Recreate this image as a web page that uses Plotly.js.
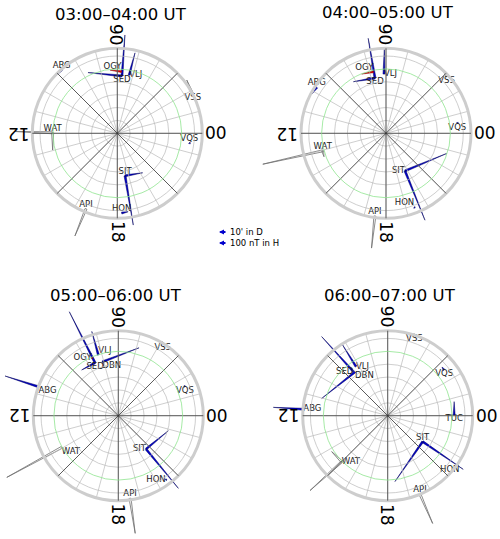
<!DOCTYPE html>
<html>
<head>
<meta charset="utf-8">
<script src="https://cdn.plot.ly/plotly-3.0.1.min.js"></script>
<style>
  html, body { margin: 0; padding: 0; background: #fff; }
  #chart { width: 500px; height: 539px; }
</style>
</head>
<body>
<div id="chart"></div>
<script>
// Titles and labels
const panelTitles = ['03:00–04:00 UT', '04:00–05:00 UT', '05:00–06:00 UT', '06:00–07:00 UT'];
const hourLabels = ['00', '06', '12', '18'];
const legendLabels = ["10' in D", '100 nT in H'];

// 03:00-04:00 UT : stations (colatitude in deg, MLT in hours)
const p1Station = ['OGY', 'SED', 'VLJ', 'ABG', 'VSS', 'WAT', 'VQS', 'SIT', 'HON', 'API'];
const p1Colat = [48.0, 44.7, 46.2, 65.5, 66.0, 50.2, 56.4, 33.5, 62.0, 63.5];
const p1Mlt = [5.74, 5.69, 5.23, 8.75, 1.83, 11.97, 23.5, 18.69, 18.21, 16.5];
// vectors (east / north components, in plot degrees)
const p1VecFrom = ['OGY', 'SED', 'SED', 'VLJ', 'ABG', 'VSS', 'WAT', 'WAT', 'VQS', 'SIT', 'SIT', 'HON', 'API'];
const p1VecEast = [-8.9, 2.3, -26.4, 4.5, -5.3, -4.6, -29.2, 0.0, 0.8, 13.7, 6.4, 5.0, -8.6];
const p1VecNorth = [1.2, 31.8, 2.6, 17.2, -5.1, 10.9, 1.0, -13.4, -0.8, 2.3, -38.3, 1.0, -21.0];
const p1VecColor = ['red', 'blue', 'blue', 'blue', 'blue', 'gray', 'gray', 'gray', 'blue', 'blue', 'blue', 'blue', 'gray'];

// 04:00-05:00 UT
const p2Station = ['OGY', 'SED', 'VLJ', 'ABG', 'VSS', 'VQS', 'WAT', 'SIT', 'HON', 'API'];
const p2Colat = [48.8, 43.7, 46.0, 64.5, 64.4, 55.9, 51.0, 32.7, 61.5, 64.8];
const p2Mlt = [6.77, 6.75, 6.13, 9.76, 2.87, 0.53, 13.03, 19.79, 19.39, 17.49];
const p2VecFrom = ['OGY', 'SED', 'SED', 'VLJ', 'ABG', 'VSS', 'VQS', 'WAT', 'WAT', 'SIT', 'SIT', 'HON', 'API'];
const p2VecEast = [-9.1, -5.3, -16.8, 0.3, -4.0, -2.6, 0.7, -46.5, 1.0, 32.3, 15.5, 0.8, -2.6];
const p2VecNorth = [-1.8, 30.9, -2.8, 21.0, -5.3, 5.3, 0.8, -10.4, -4.6, 13.5, -38.3, -0.5, -24.9];
const p2VecColor = ['red', 'blue', 'blue', 'blue', 'blue', 'gray', 'blue', 'gray', 'gray', 'blue', 'blue', 'blue', 'gray'];

// 05:00-06:00 UT
const p3Station = ['OGY', 'VLJ', 'SED', 'DBN', 'VSS', 'ABG', 'VQS', 'WAT', 'SIT', 'HON', 'API'];
const p3Colat = [49.2, 49.7, 44.9, 43.6, 66.0, 66.0, 56.4, 50.3, 33.7, 62.0, 64.8];
const p3Mlt = [7.66, 7.21, 7.58, 7.1, 3.9, 10.67, 1.57, 13.95, 20.65, 20.43, 18.54];
const p3VecFrom = ['OGY', 'VLJ', 'SED', 'SED', 'DBN', 'VSS', 'ABG', 'VQS', 'WAT', 'SIT', 'SIT', 'HON', 'API'];
const p3VecEast = [0.8, -5.1, -20.0, -10.4, 28.5, -0.7, -25.9, -0.5, -42.7, 17.3, 25.1, 0.8, 4.0];
const p3VecNorth = [0.8, 18.2, 39.6, -5.6, 10.9, 1.3, 8.3, 1.0, -23.3, 14.2, -30.5, 0.7, -27.2];
const p3VecColor = ['red', 'blue', 'blue', 'blue', 'blue', 'gray', 'blue', 'blue', 'gray', 'blue', 'blue', 'blue', 'gray'];

// 06:00-07:00 UT
const p4Station = ['VSS', 'VLJ', 'SED', 'DBN', 'ABG', 'VQS', 'TUC', 'SIT', 'HON', 'WAT', 'API'];
const p4Colat = [66.0, 45.4, 43.4, 42.4, 65.7, 56.4, 51.6, 33.8, 62.0, 50.5, 65.8];
const p4Mlt = [4.78, 8.19, 8.53, 8.45, 11.71, 2.6, 0.04, 21.56, 21.4, 15.0, 19.49];
const p4VecFrom = ['VSS', 'VLJ', 'SED', 'DBN', 'ABG', 'VQS', 'TUC', 'SIT', 'SIT', 'WAT', 'WAT', 'API'];
const p4VecEast = [-0.5, -10.4, -24.6, -25.9, -23.3, -1.7, 0.0, -21.5, 31.5, -24.6, -7.8, 9.9];
const p4VecNorth = [1.0, 16.8, 27.2, -20.6, 1.5, 2.3, 10.4, -31.0, -21.5, -22.4, 7.8, -22.8];
const p4VecColor = ['gray', 'blue', 'blue', 'blue', 'blue', 'blue', 'blue', 'blue', 'blue', 'gray', 'gray', 'gray'];

// Label placement (style, not data)
const p1LabelPos = ['top left', 'bottom center', 'middle right', 'top center', 'bottom center', 'top center', 'top center', 'top center', 'top center', 'top center'];
const p2LabelPos = ['top left', 'bottom center', 'middle right', 'top center', 'bottom center', 'bottom center', 'top center', 'middle left', 'top left', 'top center'];
const p3LabelPos = ['middle left', 'top right', 'bottom center', 'bottom right', 'bottom center', 'bottom right', 'bottom center', 'bottom right', 'middle left', 'middle left', 'top center'];
const p4LabelPos = ['bottom center', 'middle right', 'middle left', 'bottom right', 'middle right', 'bottom center', 'bottom center', 'top center', 'bottom center', 'middle right', 'top center'];

// Geometry
const W = 500, H = 539;
const MAX_COLAT = 66;
const RADIUS_PX = 85;
const PX_PER_DEG = RADIUS_PX / MAX_COLAT;
const ARROW_HALF_WIDTH_PX = 1.0;
const panelCenters = [[117.3, 133.3], [386, 133.3], [118.3, 415.7], [387.7, 415.7]];
const panelBoxes = [[0, 250, 0, 270], [250, 500, 0, 270], [0, 250, 270, 539], [250, 500, 270, 539]];
const titlePos = [[121, 14], [388, 13], [116, 295], [390, 295]];
const HOUR_LABEL_OFFSET = 99;
const FONT = 'DejaVu Sans, sans-serif';

const COLORS = {
    blue: { fill: '#0000cc', line: '#00005a', width: 0.5 },
    red: { fill: '#dd0000', line: '#8a0000', width: 0.5 },
    gray: { fill: 'none', line: '#6e6e6e', width: 0.8 }
};

const panels = [
    { station: p1Station, colat: p1Colat, mlt: p1Mlt, from: p1VecFrom, east: p1VecEast, north: p1VecNorth, color: p1VecColor, labelPos: p1LabelPos },
    { station: p2Station, colat: p2Colat, mlt: p2Mlt, from: p2VecFrom, east: p2VecEast, north: p2VecNorth, color: p2VecColor, labelPos: p2LabelPos },
    { station: p3Station, colat: p3Colat, mlt: p3Mlt, from: p3VecFrom, east: p3VecEast, north: p3VecNorth, color: p3VecColor, labelPos: p3LabelPos },
    { station: p4Station, colat: p4Colat, mlt: p4Mlt, from: p4VecFrom, east: p4VecEast, north: p4VecNorth, color: p4VecColor, labelPos: p4LabelPos }
];

function toXY(colat, mlt) {
    const a = mlt * 15 * Math.PI / 180;
    return [colat * Math.cos(a), colat * Math.sin(a)];
}

// narrow triangle: base at the station, tip at the vector end
function addTriangle(group, x0, y0, vx, vy) {
    const len = Math.hypot(vx, vy);
    if (len === 0) return;
    const hw = ARROW_HALF_WIDTH_PX / PX_PER_DEG;
    const nx = -vy / len * hw, ny = vx / len * hw;
    group.x.push(x0 + nx, x0 + vx, x0 - nx, x0 + nx, null);
    group.y.push(y0 + ny, y0 + vy, y0 - ny, y0 + ny, null);
}

function polarName(n) {
    return n === 1 ? 'polar' : 'polar' + n;
}

const traces = [];
const layout = {
    width: W,
    height: H,
    margin: { l: 0, r: 0, t: 0, b: 0 },
    paper_bgcolor: '#ffffff',
    plot_bgcolor: 'rgba(0,0,0,0)',
    showlegend: false,
    font: { family: FONT, color: '#000' },
    annotations: []
};

panels.forEach((p, i) => {
    const [cx, cy] = panelCenters[i];
    const domain = {
        x: [(cx - RADIUS_PX) / W, (cx + RADIUS_PX) / W],
        y: [1 - (cy + RADIUS_PX) / H, 1 - (cy - RADIUS_PX) / H]
    };

    // light grid: rings every 10 deg, spokes every hour
    const gridA = polarName(2 * i + 1);
    layout[gridA] = {
        domain: domain,
        bgcolor: 'rgba(0,0,0,0)',
        radialaxis: {
            range: [0, MAX_COLAT], autorange: false,
            tickvals: [10, 20, 30, 40, 60],
            showticklabels: false, ticks: '', showline: false,
            gridcolor: '#b9b9b9', gridwidth: 0.7
        },
        angularaxis: {
            rotation: 0, direction: 'counterclockwise',
            tickmode: 'linear', tick0: 0, dtick: 15,
            showticklabels: false, ticks: '',
            gridcolor: '#b9b9b9', gridwidth: 0.7,
            showline: true, linecolor: '#cdcdcd', linewidth: 3
        }
    };
    // green 50 deg ring and dark spokes every 3 h
    const gridB = polarName(2 * i + 2);
    layout[gridB] = {
        domain: domain,
        bgcolor: 'rgba(0,0,0,0)',
        radialaxis: {
            range: [0, MAX_COLAT], autorange: false,
            tickvals: [50],
            showticklabels: false, ticks: '', showline: false,
            gridcolor: '#8fe58f', gridwidth: 0.8
        },
        angularaxis: {
            rotation: 0, direction: 'counterclockwise',
            tickmode: 'linear', tick0: 0, dtick: 45,
            showticklabels: false, ticks: '',
            gridcolor: '#2a2a2a', gridwidth: 0.7,
            showline: false
        }
    };
    [gridA, gridB].forEach(name => {
        traces.push({ type: 'scatterpolar', r: [], theta: [], subplot: name, hoverinfo: 'skip', showlegend: false });
    });

    // overlay axes for the vectors, same scale as the polar grid
    const suffix = i === 0 ? '' : String(i + 1);
    const [bx0, bx1, by0, by1] = panelBoxes[i];
    layout['xaxis' + suffix] = {
        domain: [bx0 / W, bx1 / W],
        range: [(bx0 - cx) / PX_PER_DEG, (bx1 - cx) / PX_PER_DEG],
        visible: false, fixedrange: true,
        anchor: 'y' + suffix
    };
    layout['yaxis' + suffix] = {
        domain: [1 - by1 / H, 1 - by0 / H],
        range: [(cy - by1) / PX_PER_DEG, (cy - by0) / PX_PER_DEG],
        visible: false, fixedrange: true,
        anchor: 'x' + suffix
    };

    const pos = {};
    p.station.forEach((s, k) => { pos[s] = toXY(p.colat[k], p.mlt[k]); });

    const groups = { gray: { x: [], y: [] }, blue: { x: [], y: [] }, red: { x: [], y: [] } };
    p.from.forEach((s, k) => {
        const [x0, y0] = pos[s];
        addTriangle(groups[p.color[k]], x0, y0, p.east[k], p.north[k]);
    });
    Object.keys(groups).forEach(c => {
        const style = COLORS[c];
        traces.push({
            type: 'scatter', mode: 'lines',
            x: groups[c].x, y: groups[c].y,
            xaxis: 'x' + suffix, yaxis: 'y' + suffix,
            fill: style.fill === 'none' ? 'none' : 'toself',
            fillcolor: style.fill === 'none' ? undefined : style.fill,
            line: { color: style.line, width: style.width },
            hoverinfo: 'skip', showlegend: false, cliponaxis: false
        });
    });

    // station names
    traces.push({
        type: 'scatter', mode: 'text',
        x: p.station.map(s => pos[s][0]),
        y: p.station.map(s => pos[s][1]),
        text: p.station,
        textposition: p.labelPos,
        textfont: { family: FONT, size: 8.5, color: '#222' },
        xaxis: 'x' + suffix, yaxis: 'y' + suffix,
        hoverinfo: 'skip', showlegend: false, cliponaxis: false
    });

    // MLT hour labels, turned with the angle
    hourLabels.forEach(lbl => {
        const ang = Number(lbl) * 15;
        const a = ang * Math.PI / 180;
        let ta = -ang;
        if (ta <= -180) ta += 360;
        layout.annotations.push({
            xref: 'paper', yref: 'paper',
            x: (cx + HOUR_LABEL_OFFSET * Math.cos(a)) / W,
            y: 1 - (cy - HOUR_LABEL_OFFSET * Math.sin(a)) / H,
            xanchor: 'center', yanchor: 'middle',
            text: lbl, textangle: ta, showarrow: false,
            font: { family: FONT, size: 17, color: '#000' }
        });
    });

    // panel title
    layout.annotations.push({
        xref: 'paper', yref: 'paper',
        x: titlePos[i][0] / W, y: 1 - titlePos[i][1] / H,
        xanchor: 'center', yanchor: 'middle',
        text: panelTitles[i], showarrow: false,
        font: { family: FONT, size: 16.5, color: '#000' }
    });
});

// vector key
legendLabels.forEach((lbl, k) => {
    const y = 1 - (232 + k * 11) / H;
    layout.annotations.push({
        xref: 'paper', yref: 'paper',
        x: 219 / W, y: y,
        ax: 8, ay: 0, text: '', showarrow: true,
        arrowhead: 2, arrowsize: 0.5, arrowwidth: 2, arrowcolor: '#0000cc'
    });
    layout.annotations.push({
        xref: 'paper', yref: 'paper',
        x: 228 / W, y: y,
        xanchor: 'left', yanchor: 'middle',
        text: lbl, showarrow: false,
        font: { family: FONT, size: 8.5, color: '#000' }
    });
});

Plotly.newPlot('chart', traces, layout, { displayModeBar: false, staticPlot: true });
</script>
</body>
</html>
